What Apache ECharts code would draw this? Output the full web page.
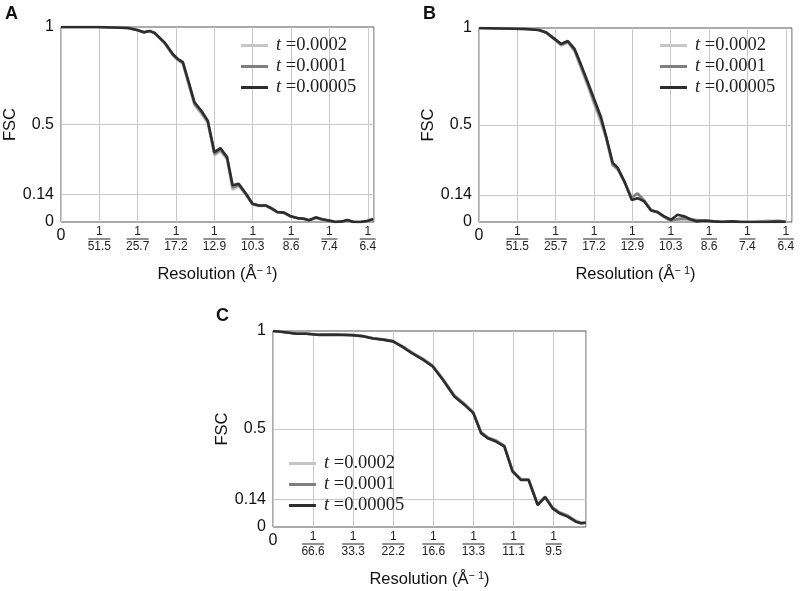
<!DOCTYPE html>
<html>
<head>
<meta charset="utf-8">
<script src="https://cdn.jsdelivr.net/npm/echarts@6/dist/echarts.min.js"></script>
<style>html,body{margin:0;padding:0;background:#fff;}#chart{width:800px;height:591px;}</style>
</head>
<body>
<div id="chart"></div>
<script>
// ---------- data ----------
const seriesNames = ['t =0.0002', 't =0.0001', 't =0.00005'];
const yTickValues = [0, 0.14, 0.5, 1];
const yTickLabels = ['0', '0.14', '0.5', '1'];

// Panels A and B: spatial frequency ticks at multiples of 1/51.5 Å^-1
const xStepAB = 1 / 51.5;
const xTickLabelsAB = ['0', '51.5', '25.7', '17.2', '12.9', '10.3', '8.6', '7.4', '6.4'];
const xMaxAB = 0.1585;
// Panel C: ticks at multiples of 1/66.6 Å^-1
const xStepC = 1 / 66.6;
const xTickLabelsC = ['0', '66.6', '33.3', '22.2', '16.6', '13.3', '11.1', '9.5'];
const xMaxC = 0.1172;

// Panel A
const aX = [0, 0.0188, 0.0340, 0.0390, 0.0420, 0.0449, 0.0474, 0.0525, 0.0567, 0.0592, 0.0617, 0.0642, 0.0676, 0.0710, 0.0743, 0.0777, 0.0807, 0.0841, 0.0869, 0.0900, 0.0937, 0.0970, 0.1004, 0.1037, 0.1063, 0.1096, 0.1130, 0.1164, 0.1197, 0.1231, 0.1256, 0.1290, 0.1323, 0.1357, 0.1391, 0.1424, 0.1449, 0.1483, 0.1517, 0.1550, 0.1581];
const aDark = [1, 1, 0.995, 0.983, 0.973, 0.98, 0.97, 0.92, 0.86, 0.836, 0.82, 0.734, 0.614, 0.572, 0.52, 0.358, 0.379, 0.333, 0.188, 0.196, 0.145, 0.094, 0.085, 0.085, 0.072, 0.051, 0.048, 0.029, 0.02, 0.017, 0.009, 0.024, 0.014, 0.007, 0.0, 0.003, 0.01, 0, 0.0, 0.005, 0.015];
const aMed = [1, 1, 0.995, 0.983, 0.973, 0.979, 0.969, 0.918, 0.857, 0.832, 0.816, 0.728, 0.606, 0.563, 0.515, 0.349, 0.371, 0.327, 0.176, 0.19, 0.141, 0.091, 0.083, 0.084, 0.07, 0.05, 0.047, 0.028, 0.02, 0.016, 0.009, 0.022, 0.013, 0.007, 0.0, 0.003, 0.009, 0, 0.0, 0.005, 0.014];
const aLight = [1, 1, 0.995, 0.982, 0.972, 0.978, 0.967, 0.915, 0.853, 0.828, 0.81, 0.72, 0.598, 0.555, 0.508, 0.34, 0.363, 0.32, 0.165, 0.184, 0.137, 0.088, 0.081, 0.083, 0.068, 0.049, 0.046, 0.027, 0.019, 0.016, 0.008, 0.021, 0.012, 0.006, 0.0, 0.003, 0.009, 0, 0.0, 0.004, 0.013];

// Panel B
const bX = [0, 0.0236, 0.0303, 0.0341, 0.0388, 0.0416, 0.0450, 0.0484, 0.0517, 0.0551, 0.0581, 0.0618, 0.0644, 0.0677, 0.0702, 0.0736, 0.0773, 0.0803, 0.0837, 0.0871, 0.0904, 0.0938, 0.0972, 0.1005, 0.1038, 0.1070, 0.1103, 0.1145, 0.1187, 0.1230, 0.1280, 0.1331, 0.1398, 0.1465, 0.1516, 0.1553];
const bDark = [1, 0.995, 0.99, 0.977, 0.94, 0.918, 0.933, 0.892, 0.81, 0.72, 0.64, 0.54, 0.44, 0.305, 0.28, 0.21, 0.114, 0.123, 0.106, 0.059, 0.051, 0.029, 0.012, 0.037, 0.03, 0.014, 0.003, 0.007, 0.003, 0, 0.003, 0, 0, 0, 0.002, 0];
const bMed = [1, 0.995, 0.99, 0.976, 0.937, 0.913, 0.928, 0.885, 0.8, 0.71, 0.625, 0.525, 0.435, 0.296, 0.274, 0.208, 0.125, 0.148, 0.11, 0.062, 0.05, 0.026, 0.006, 0.015, 0.02, 0.012, 0.01, 0.006, 0.004, 0.001, 0.002, 0, 0, 0.002, 0.006, 0.002];
const bLight = [1, 0.995, 0.99, 0.975, 0.935, 0.91, 0.925, 0.88, 0.79, 0.7, 0.61, 0.51, 0.43, 0.29, 0.27, 0.205, 0.128, 0.145, 0.11, 0.063, 0.049, 0.024, 0.002, 0.012, 0.01, 0.018, 0.005, 0.004, 0.003, 0.001, 0.001, 0, 0.001, 0.008, 0.003, 0.001];

// Panel C
const cX = [0, 0.0037, 0.0087, 0.0125, 0.0174, 0.0237, 0.0299, 0.0336, 0.0374, 0.0411, 0.0449, 0.0486, 0.0523, 0.0561, 0.0598, 0.0636, 0.0679, 0.0717, 0.0750, 0.0779, 0.0804, 0.0835, 0.0866, 0.0897, 0.0928, 0.0957, 0.0991, 0.1019, 0.1047, 0.1072, 0.1103, 0.1134, 0.1153, 0.1171];
const cDark = [1, 0.995, 0.986, 0.986, 0.98, 0.981, 0.978, 0.973, 0.962, 0.956, 0.947, 0.918, 0.884, 0.854, 0.819, 0.751, 0.666, 0.623, 0.581, 0.479, 0.453, 0.436, 0.411, 0.283, 0.24, 0.24, 0.112, 0.152, 0.095, 0.07, 0.053, 0.027, 0.019, 0.022];
const cMed = [1, 0.995, 0.987, 0.986, 0.981, 0.982, 0.979, 0.974, 0.963, 0.957, 0.948, 0.92, 0.887, 0.857, 0.822, 0.754, 0.67, 0.627, 0.584, 0.483, 0.456, 0.44, 0.414, 0.286, 0.243, 0.242, 0.115, 0.154, 0.098, 0.074, 0.057, 0.03, 0.02, 0.022];
const cLight = [1, 0.996, 0.988, 0.987, 0.982, 0.983, 0.98, 0.975, 0.964, 0.958, 0.95, 0.922, 0.89, 0.86, 0.825, 0.757, 0.673, 0.63, 0.587, 0.486, 0.459, 0.443, 0.417, 0.289, 0.246, 0.244, 0.118, 0.156, 0.1, 0.077, 0.06, 0.033, 0.022, 0.023];

// ---------- styling ----------
const colors = ['#c6c6c6', '#7f7f7f', '#2d2d2d'];
const sans = 'Liberation Sans, Arial, Helvetica, sans-serif';
const serif = 'Liberation Serif, DejaVu Serif, serif';

function yLabel(v) {
  for (let i = 0; i < yTickValues.length; i++) {
    if (Math.abs(v - yTickValues[i]) < 1e-6) return yTickLabels[i];
  }
  return '';
}
const yStep = 0.02;
const yGridColors = [];
for (let i = 0; i <= Math.round(1 / yStep); i++) {
  const v = i * yStep;
  const hit = yTickValues.some(t => t > 0 && t < 1 && Math.abs(v - t) < 1e-6);
  yGridColors.push(hit ? '#c9c9c9' : 'rgba(0,0,0,0)');
}

function xFormatter(step, labels) {
  return function (v) {
    const k = v / step;
    const idx = Math.round(k);
    if (Math.abs(k - idx) > 0.02 || idx >= labels.length) return '';
    if (idx === 0) return '{z|0}';
    const d = labels[idx];
    return '{n|1}\n{b' + d.length + '| }\n{d|' + d + '}';
  };
}

const xRich = {
  z: { fontSize: 16, lineHeight: 16, padding: [4, 0, 0, 0], color: '#111', fontFamily: sans },
  n: { fontSize: 12, lineHeight: 11, color: '#222', fontFamily: sans },
  b3: { fontSize: 1, width: 16, height: 1, lineHeight: 4, backgroundColor: '#222' },
  b4: { fontSize: 1, width: 22, height: 1, lineHeight: 4, backgroundColor: '#222' },
  d: { fontSize: 12, lineHeight: 12, color: '#222', fontFamily: sans }
};

const panels = [
  { left: 61, top: 27, width: 313, height: 195, x: aX, ys: [aLight, aMed, aDark], step: xStepAB, labels: xTickLabelsAB, max: xMaxAB, legend: { left: 241, top: 36 } },
  { left: 479, top: 28, width: 313, height: 194, x: bX, ys: [bLight, bMed, bDark], step: xStepAB, labels: xTickLabelsAB, max: xMaxAB, legend: { left: 660, top: 36 } },
  { left: 273, top: 331, width: 313, height: 196, x: cX, ys: [cLight, cMed, cDark], step: xStepC, labels: xTickLabelsC, max: xMaxC, legend: { left: 289, top: 454 } }
];

const option = {
  animation: false,
  backgroundColor: '#ffffff',
  title: [
    { text: 'A', left: 5, top: 5, padding: 0, textStyle: { fontSize: 18, fontWeight: 'bold', color: '#111', fontFamily: sans } },
    { text: 'B', left: 423, top: 5, padding: 0, textStyle: { fontSize: 18, fontWeight: 'bold', color: '#111', fontFamily: sans } },
    { text: 'C', left: 216, top: 307, padding: 0, textStyle: { fontSize: 18, fontWeight: 'bold', color: '#111', fontFamily: sans } }
  ],
  grid: [], xAxis: [], yAxis: [], series: [], legend: []
};

panels.forEach((p, gi) => {
  option.grid.push({ left: p.left, top: p.top, width: p.width, height: p.height, show: true, borderColor: '#555', borderWidth: 1, backgroundColor: 'transparent', containLabel: false });
  option.xAxis.push({
    type: 'value', gridIndex: gi, min: 0, max: p.max, interval: p.step,
    axisLine: { show: false }, axisTick: { show: false },
    splitLine: { show: true, lineStyle: { color: '#c9c9c9', width: 1 } },
    axisLabel: { show: true, margin: 4, formatter: xFormatter(p.step, p.labels), rich: xRich, align: 'center', verticalAlign: 'top', hideOverlap: false, showMinLabel: true, showMaxLabel: true },
    name: 'Resolution (Å{s|− 1})', nameLocation: 'middle', nameGap: 43,
    nameTextStyle: { fontSize: 16.5, color: '#111', fontFamily: sans, lineHeight: 18, rich: { s: { fontSize: 11, fontFamily: sans, color: '#111', verticalAlign: 'top', lineHeight: 18, padding: [0, 0, 6, 0] } } }
  });
  option.yAxis.push({
    type: 'value', gridIndex: gi, min: 0, max: 1, interval: yStep,
    axisLine: { show: false }, axisTick: { show: false },
    splitLine: { show: true, lineStyle: { color: yGridColors, width: 1 } },
    axisLabel: { formatter: yLabel, fontSize: 16, color: '#111', fontFamily: sans, margin: 7 },
    name: 'FSC', nameLocation: 'middle', nameGap: 38, nameRotate: 90,
    nameTextStyle: { fontSize: 16.5, color: '#111', fontFamily: sans }
  });
  p.ys.forEach((vals, si) => {
    option.series.push({
      type: 'line', name: seriesNames[si], xAxisIndex: gi, yAxisIndex: gi,
      data: p.x.map((xv, i) => [xv, vals[i]]),
      showSymbol: false, symbol: 'none', smooth: false, clip: true,
      lineStyle: { color: colors[si], width: 2.6 }, itemStyle: { color: colors[si] },
      z: 2 + si
    });
  });
  option.legend.push({
    data: seriesNames, orient: 'vertical', left: p.legend.left, top: p.legend.top,
    padding: 0, itemGap: 2, itemWidth: 27, itemHeight: 3, icon: 'rect', selectedMode: false,
    formatter: function (name) { const v = name.split('=')[1]; return '{i|t} {r|=' + v + '}'; },
    textStyle: {
      fontSize: 18.5, lineHeight: 18, color: '#222', fontFamily: serif,
      rich: {
        i: { fontSize: 18.5, fontStyle: 'italic', fontFamily: serif, color: '#222', padding: [0, 0, 0, 3], lineHeight: 18 },
        r: { fontSize: 18.5, fontFamily: serif, color: '#222', lineHeight: 18 }
      }
    }
  });
});

const chart = echarts.init(document.getElementById('chart'), null, { renderer: 'canvas' });
chart.setOption(option);
</script>
</body>
</html>
